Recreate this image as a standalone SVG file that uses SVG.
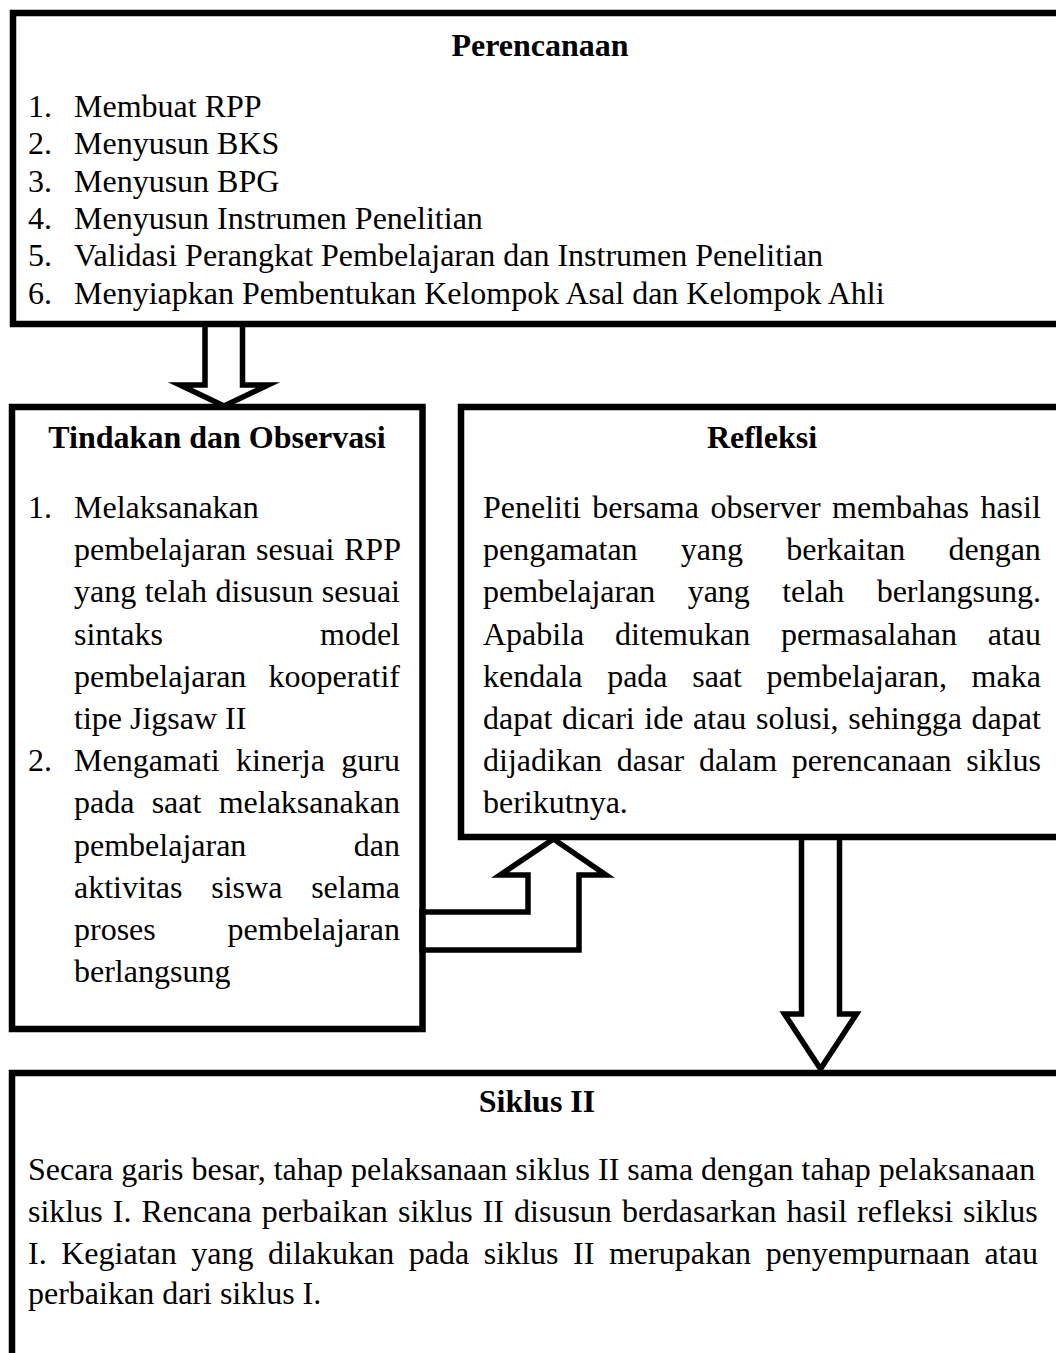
<svg xmlns="http://www.w3.org/2000/svg" width="1056" height="1353" viewBox="0 0 1056 1353">
<style>
.box{fill:#fff;stroke:#000;stroke-width:6.5}
.arr{fill:none;stroke:#000;stroke-width:5.5;stroke-linejoin:miter;stroke-miterlimit:10}
text{font-family:"Liberation Serif","Times New Roman",serif;font-size:32px;fill:#000}
.t{font-weight:bold;text-anchor:middle}
</style>
<rect width="1056" height="1353" fill="#fff"/>
<g id="perencanaan">
<rect class="box" x="13" y="13" width="1054" height="311"/>
<text class="t" x="540" y="56">Perencanaan</text>
<text x="28" y="117">1.</text><text x="74" y="117">Membuat RPP</text>
<text x="28" y="154.3">2.</text><text x="74" y="154.3">Menyusun BKS</text>
<text x="28" y="191.6">3.</text><text x="74" y="191.6">Menyusun BPG</text>
<text x="28" y="228.9">4.</text><text x="74" y="228.9">Menyusun Instrumen Penelitian</text>
<text x="28" y="266.2">5.</text><text x="74" y="266.2">Validasi Perangkat Pembelajaran dan Instrumen Penelitian</text>
<text x="28" y="303.5">6.</text><text x="74" y="303.5">Menyiapkan Pembentukan Kelompok Asal dan Kelompok Ahli</text>
</g>
<g id="tindakan">
<rect class="box" x="12" y="407" width="410.5" height="622"/>
<text class="t" x="217" y="448">Tindakan dan Observasi</text>
<text x="28" y="518">1.</text><text x="74" y="518">Melaksanakan</text>
<text x="74" y="560.2" word-spacing="1.74">pembelajaran sesuai RPP</text>
<text x="74" y="602.4" word-spacing="0.53">yang telah disusun sesuai</text>
<text x="74" y="644.6" word-spacing="149.1">sintaks model</text>
<text x="74" y="686.8" word-spacing="14.1">pembelajaran kooperatif</text>
<text x="74" y="729">tipe Jigsaw II</text>
<text x="28" y="771.2">2.</text><text x="74" y="771.2" word-spacing="8.35">Mengamati kinerja guru</text>
<text x="74" y="813.4" word-spacing="9.25">pada saat melaksanakan</text>
<text x="74" y="855.6" word-spacing="99.4">pembelajaran dan</text>
<text x="74" y="897.8" word-spacing="20.8">aktivitas siswa selama</text>
<text x="74" y="940" word-spacing="63.8">proses pembelajaran</text>
<text x="74" y="982.2">berlangsung</text>
</g>
<g id="refleksi">
<rect class="box" x="461" y="407" width="602" height="430"/>
<text class="t" x="762" y="448">Refleksi</text>
<text x="483" y="518" word-spacing="3.5">Peneliti bersama observer membahas hasil</text>
<text x="483" y="560.2" word-spacing="35.2">pengamatan yang berkaitan dengan</text>
<text x="483" y="602.4" word-spacing="24.3">pembelajaran yang telah berlangsung.</text>
<text x="483" y="644.6" word-spacing="22.8">Apabila ditemukan permasalahan atau</text>
<text x="483" y="686.8" word-spacing="16.65">kendala pada saat pembelajaran, maka</text>
<text x="483" y="729" word-spacing="1.6">dapat dicari ide atau solusi, sehingga dapat</text>
<text x="483" y="771.2" word-spacing="6.65">dijadikan dasar dalam perencanaan siklus</text>
<text x="483" y="813.4">berikutnya.</text>
</g>
<g id="siklus2">
<rect class="box" x="12" y="1073" width="1050" height="300"/>
<text class="t" x="537" y="1112">Siklus II</text>
<text x="28" y="1180">Secara garis besar, tahap pelaksanaan siklus II sama dengan tahap pelaksanaan</text>
<text x="28" y="1221.8" word-spacing="2.07">siklus I. Rencana perbaikan siklus II disusun berdasarkan hasil refleksi siklus</text>
<text x="28" y="1263.6" word-spacing="6.57">I. Kegiatan yang dilakukan pada siklus II merupakan penyempurnaan atau</text>
<text x="28" y="1304">perbaikan dari siklus I.</text>
</g>
<g id="connectors">
<polyline class="arr" points="205,324 205,385 180,385 224,406 268,385 242.5,385 242.5,324"/>
<polygon class="arr" points="422,912 528,912 528,875 500,875 553.5,839 606,875 579,875 579,950 422,950"/>
<polyline class="arr" points="801.5,837 801.5,1014 784.5,1014 820.5,1069 856.5,1014 839.5,1014 839.5,837"/>
</g>
</svg>
